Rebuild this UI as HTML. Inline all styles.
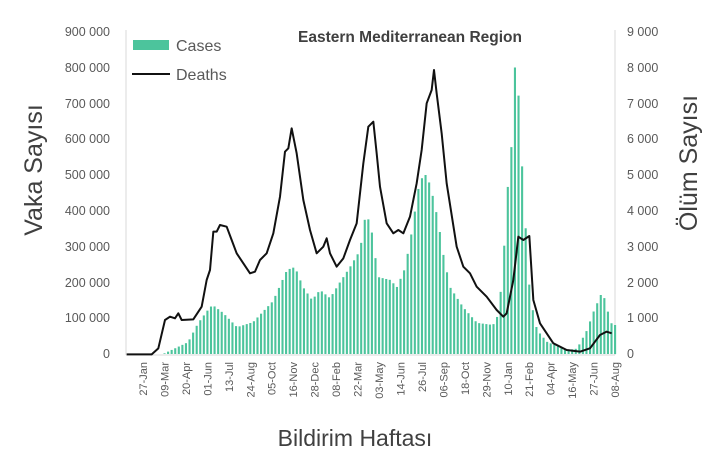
<!DOCTYPE html>
<html><head><meta charset="utf-8"><style>
body{margin:0;background:#fff;}
svg{display:block;font-family:"Liberation Sans",sans-serif;}
</style></head><body>
<svg id="s" width="719" height="463" viewBox="0 0 719 463" xmlns="http://www.w3.org/2000/svg">
<rect width="719" height="463" fill="#fff"/>
<line x1="126" y1="30" x2="126" y2="355" stroke="#d9d9d9"/>
<line x1="615" y1="30" x2="615" y2="355" stroke="#d9d9d9"/>
<line x1="126" y1="355" x2="615" y2="355" stroke="#d9d9d9"/>
<g id="bars" fill="#4cc49c"></g>
<g font-size="12.5" fill="#595959" text-anchor="end">
<text x="110" y="36">900 000</text><text x="110" y="72">800 000</text><text x="110" y="108">700 000</text>
<text x="110" y="143">600 000</text><text x="110" y="179">500 000</text><text x="110" y="215">400 000</text>
<text x="110" y="251">300 000</text><text x="110" y="287">200 000</text><text x="110" y="322">100 000</text>
<text x="110" y="358">0</text>
</g>
<g font-size="12.5" fill="#595959" text-anchor="start">
<text x="627" y="36">9 000</text><text x="627" y="72">8 000</text><text x="627" y="108">7 000</text>
<text x="627" y="143">6 000</text><text x="627" y="179">5 000</text><text x="627" y="215">4 000</text>
<text x="627" y="251">3 000</text><text x="627" y="287">2 000</text><text x="627" y="322">1 000</text>
<text x="627" y="358">0</text>
</g>
<g id="xl" font-size="11" fill="#595959" text-anchor="end"></g>
<path transform="translate(110,20) scale(0.33333)" fill="none" stroke="#111" stroke-width="6" stroke-linejoin="round"
d="M50,1003 L125,1003 145,985 165,900 180,890 195,895 205,880 215,900 250,898 275,860 290,780 300,750 310,635 320,635 330,615 350,620 365,660 380,700 400,730 420,760 435,755 450,720 470,700 490,640 510,530 525,395 535,385 545,325 560,400 580,540 600,630 620,700 640,680 650,655 660,700 680,740 700,715 720,660 740,610 760,430 775,320 790,305 800,400 810,500 830,610 850,640 865,630 880,640 900,590 920,490 935,390 950,250 965,210 972,150 980,220 995,340 1010,490 1040,680 1060,740 1080,760 1100,800 1130,830 1160,870 1180,890 1190,880 1210,780 1225,650 1240,660 1258,648 1270,840 1290,910 1330,970 1370,990 1410,995 1440,985 1470,945 1490,935 1505,940"/>
<text x="410" y="42" font-size="15.5" font-weight="bold" fill="#404040" text-anchor="middle">Eastern Mediterranean Region</text>
<rect x="133" y="40" width="36" height="10" fill="#4cc49c"/>
<text x="176" y="51" font-size="16" fill="#595959">Cases</text>
<line x1="132" y1="74" x2="170" y2="74" stroke="#111" stroke-width="2"/>
<text x="176" y="80" font-size="16" fill="#595959">Deaths</text>
<text transform="translate(42,170) rotate(-90)" font-size="25" fill="#404040" text-anchor="middle">Vaka Sayısı</text>
<text transform="translate(697,163) rotate(-90)" font-size="25" fill="#404040" text-anchor="middle">Ölüm Sayısı</text>
<text x="355" y="446" font-size="23" fill="#404040" text-anchor="middle">Bildirim Haftası</text>
</svg>
<script>
var pts=[[150,0],[163,0],[188,33],[198,86],[210,131],[213,136],[223,115],[237,75],[253,89],[273,148],[287,235],[295,243],[303,187],[312,151],[320,179],[330,156],[340,201],[350,243],[360,290],[365,380],[370,374],[373,318],[378,215],[390,207],[397,187],[405,240],[412,346],[418,458],[423,500],[427,500],[432,450],[438,374],[443,282],[450,187],[463,131],[477,87],[493,81],[497,103],[502,201],[505,341],[508,478],[512,598],[515,807],[519,709],[523,467],[530,159],[537,67],[547,34],[567,11],[577,15],[587,67],[593,115],[602,173],[605,151],[608,117],[612,81]];
function v(x){if(x<pts[0][0])return 0;for(var i=1;i<pts.length;i++){if(x<=pts[i][0]){var a=pts[i-1],b=pts[i];return a[1]+(b[1]-a[1])*(x-a[0])/(b[0]-a[0]);}}return 81;}
var ns="http://www.w3.org/2000/svg",g=document.getElementById("bars");
for(var i=-4;i<=132;i++){var x=143+3.576*i;var val=v(x);if(val<1)continue;var h=val*0.358;
var r=document.createElementNS(ns,"rect");r.setAttribute("x",(x-1).toFixed(2));r.setAttribute("y",(354-h).toFixed(2));r.setAttribute("width","2.1");r.setAttribute("height",h.toFixed(2));g.appendChild(r);}
var labs=["27-Jan","09-Mar","20-Apr","01-Jun","13-Jul","24-Aug","05-Oct","16-Nov","28-Dec","08-Feb","22-Mar","03-May","14-Jun","26-Jul","06-Sep","18-Oct","29-Nov","10-Jan","21-Feb","04-Apr","16-May","27-Jun","08-Aug"];
var xl=document.getElementById("xl");
labs.forEach(function(t,k){var x=143+3.576*6*k+4;var e=document.createElementNS(ns,"text");e.setAttribute("transform","translate("+x.toFixed(1)+",362) rotate(-90)");e.textContent=t;xl.appendChild(e);});
</script>
</body></html>
